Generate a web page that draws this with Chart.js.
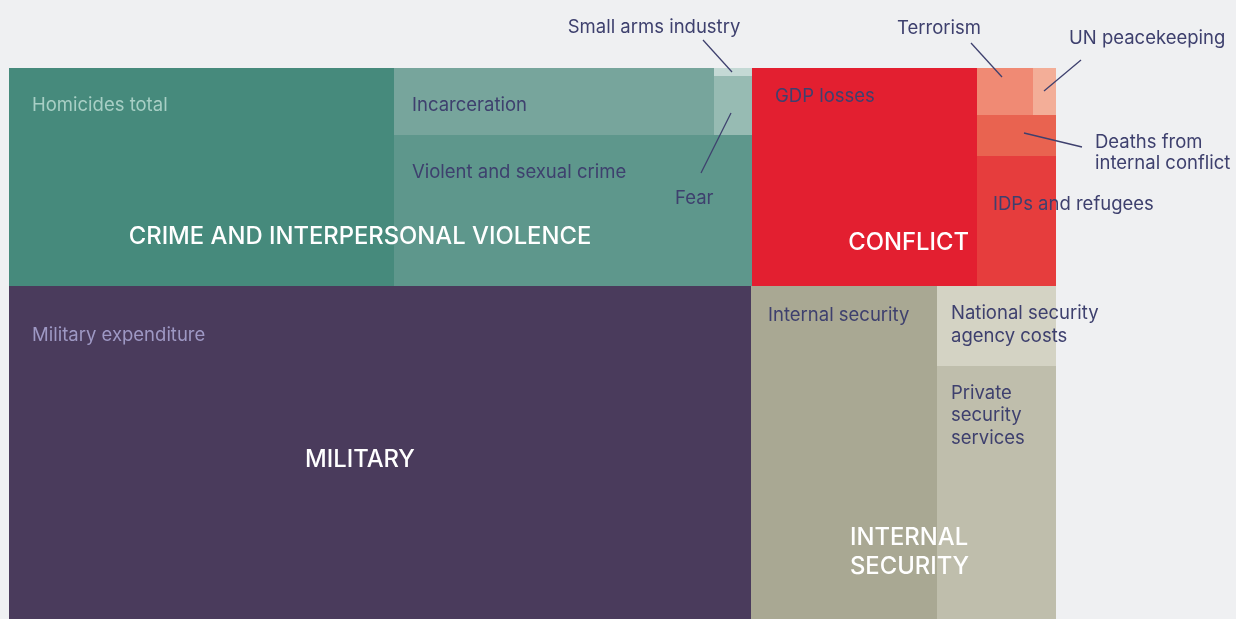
<!DOCTYPE html>
<html><head><meta charset="utf-8">
<script src="https://cdn.jsdelivr.net/npm/chart.js@4/dist/chart.umd.min.js"></script>
<style>html,body{margin:0;padding:0;background:#eff0f2;overflow:hidden}canvas{display:block}</style>
</head><body>
<canvas id="c" width="1236" height="619"></canvas>
<script>
// ---- data (share of total economic cost of violence, %) ----
const groups = ['CRIME AND INTERPERSONAL VIOLENCE', 'CONFLICT', 'MILITARY', 'INTERNAL SECURITY'];
const groupLabelLines = [['CRIME AND INTERPERSONAL VIOLENCE'], ['CONFLICT'], ['MILITARY'], ['INTERNAL', 'SECURITY']];
const categories = ['Homicides total', 'Incarceration', 'Small arms industry', 'Fear', 'Violent and sexual crime',
  'GDP losses', 'Terrorism', 'UN peacekeeping', 'Deaths from internal conflict', 'IDPs and refugees',
  'Military expenditure', 'Internal security', 'National security agency costs', 'Private security services'];
const categoryGroup = [0, 0, 0, 0, 0, 1, 1, 1, 1, 1, 2, 3, 3, 3];
const values = [14.55, 3.72, 0.05, 0.39, 9.36, 8.52, 0.46, 0.19, 0.56, 1.78, 42.86, 10.71, 1.65, 5.22];

// ---- layout structure (h = split horizontally, v = split vertically), leaves are category indices ----
const tree = {dir: 'v', kids: [
  {dir: 'h', kids: [
    {g: 0, dir: 'h', kids: [0, {dir: 'v', kids: [{dir: 'h', kids: [1, {dir: 'v', kids: [2, 3]}]}, 4]}]},
    {g: 1, dir: 'h', kids: [5, {dir: 'v', kids: [{dir: 'h', kids: [6, 7]}, 8, 9]}]}
  ]},
  {dir: 'h', kids: [
    {g: 2, dir: 'h', kids: [10]},
    {g: 3, dir: 'h', kids: [11, {dir: 'v', kids: [12, 13]}]}
  ]}
]};

// ---- styles ----
const colors = ['#468a7c', '#77a59c', '#c4d9d5', '#97bbb3', '#5e978c',
  '#e31f30', '#f08a74', '#f3ae98', '#e96350', '#e63d3d',
  '#4a3b5c', '#a9a893', '#d4d3c4', '#bfbeac'];
const NAVY = '#3e406e';
const FONT = 'Inter, "Open Sans", sans-serif';
// in-box labels: offsets from box top-left (px)
const boxLabels = {
  0: {dx: 23, dy: 37, lines: ['Homicides total'], color: '#a8cfc5'},
  1: {dx: 18, dy: 37, lines: ['Incarceration'], color: NAVY},
  4: {dx: 18, dy: 37, lines: ['Violent and sexual crime'], color: NAVY},
  5: {dx: 23, dy: 28, lines: ['GDP losses'], color: NAVY},
  9: {dx: 16, dy: 48, lines: ['IDPs and refugees'], color: NAVY},
  10: {dx: 23, dy: 49, lines: ['Military expenditure'], color: '#9e98c4'},
  11: {dx: 17, dy: 29, lines: ['Internal security'], color: NAVY},
  12: {dx: 14, dy: 27, lines: ['National security', 'agency costs'], color: NAVY, lh: 23},
  13: {dx: 14, dy: 27, lines: ['Private', 'security', 'services'], color: NAVY, lh: 22.5}
};
// callout labels: text anchor and leader line relative to box top-left
const callouts = {
  2: {tx: -60, ty: -41, align: 'center', lines: ['Small arms industry'], l: [-11, -28, 18, 4]},
  3: {tx: -39, ty: 122, align: 'left', lines: ['Fear'], l: [17, 37, -13, 97]},
  6: {tx: -38, ty: -40, align: 'center', lines: ['Terrorism'], l: [-6, -25, 25, 9]},
  7: {tx: 36, ty: -30, align: 'left', lines: ['UN peacekeeping'], l: [48, -8, 11, 23]},
  8: {tx: 118, ty: 27, align: 'left', lines: ['Deaths from', 'internal conflict'], l: [47, 18, 105, 32], lh: 21.5}
};
// group label anchors relative to group box
const groupStyle = [
  {dx: 351, dy: 169, align: 'center'},
  {dx: 217, dy: 175, align: 'right'},
  {dx: 351, dy: 174, align: 'center'},
  {dx: 99, dy: 252, align: 'left', lh: 29}
];

function sumOf(n) { return typeof n === 'number' ? values[n] : n.kids.reduce((s, k) => s + sumOf(k), 0); }
function layout(n, x0, y0, x1, y1, out) {
  if (typeof n === 'number') { out.items[n] = {x0, y0, x1, y1}; return; }
  if (n.g !== undefined) out.groups[n.g] = {x0, y0, x1, y1};
  const tot = sumOf(n);
  let acc = 0;
  n.kids.forEach(k => {
    const a = acc / tot, b = (acc + sumOf(k)) / tot;
    acc += sumOf(k);
    if (n.dir === 'h') layout(k, x0 + (x1 - x0) * a, y0, x0 + (x1 - x0) * b, y1, out);
    else layout(k, x0, y0 + (y1 - y0) * a, x1, y0 + (y1 - y0) * b, out);
  });
}
const L = {items: [], groups: []};
layout(tree, 0, 0, 100, 100, L);

const treemapPlugin = {
  id: 'treemapDraw',
  beforeDatasetsDraw(chart) {
    const ctx = chart.ctx, xs = chart.scales.x, ys = chart.scales.y;
    const px = r => ({
      l: Math.round(xs.getPixelForValue(r.x0)), r: Math.round(xs.getPixelForValue(r.x1)),
      t: Math.round(ys.getPixelForValue(r.y0)), b: Math.round(ys.getPixelForValue(r.y1))
    });
    const boxes = L.items.map(px), gboxes = L.groups.map(px);
    ctx.save();
    boxes.forEach((b, i) => { ctx.fillStyle = colors[i]; ctx.fillRect(b.l, b.t, b.r - b.l, b.b - b.t); });
    ctx.textBaseline = 'middle';
    // group labels
    ctx.font = '500 23.8px ' + FONT; ctx.fillStyle = '#ffffff';
    gboxes.forEach((b, g) => {
      const s = groupStyle[g]; ctx.textAlign = s.align;
      groupLabelLines[g].forEach((t, j) => ctx.fillText(t, b.l + s.dx, b.t + s.dy + j * (s.lh || 0)));
    });
    // box labels
    ctx.font = '400 18.5px ' + FONT; ctx.textAlign = 'left';
    Object.keys(boxLabels).forEach(k => {
      const s = boxLabels[k], b = boxes[k];
      ctx.fillStyle = s.color;
      s.lines.forEach((t, j) => ctx.fillText(t, b.l + s.dx, b.t + s.dy + j * (s.lh || 0)));
    });
    // callouts
    ctx.fillStyle = NAVY; ctx.strokeStyle = NAVY; ctx.lineWidth = 1.3;
    Object.keys(callouts).forEach(k => {
      const s = callouts[k], b = boxes[k];
      ctx.textAlign = s.align;
      s.lines.forEach((t, j) => ctx.fillText(t, b.l + s.tx, b.t + s.ty + j * (s.lh || 0)));
      ctx.beginPath(); ctx.moveTo(b.l + s.l[0], b.t + s.l[1]); ctx.lineTo(b.l + s.l[2], b.t + s.l[3]); ctx.stroke();
    });
    ctx.restore();
  }
};

new Chart(document.getElementById('c'), {
  type: 'scatter',
  data: {datasets: [{label: 'Economic cost of violence', data: [], pointRadius: 0}]},
  options: {
    responsive: false, animation: false, devicePixelRatio: 1,
    layout: {padding: {left: 9, right: 180, top: 68, bottom: 0}},
    scales: {
      x: {type: 'linear', min: 0, max: 100, display: false},
      y: {type: 'linear', min: 0, max: 100, reverse: true, display: false}
    },
    plugins: {legend: {display: false}, tooltip: {enabled: false}}
  },
  plugins: [treemapPlugin]
});
</script>
</body></html>
